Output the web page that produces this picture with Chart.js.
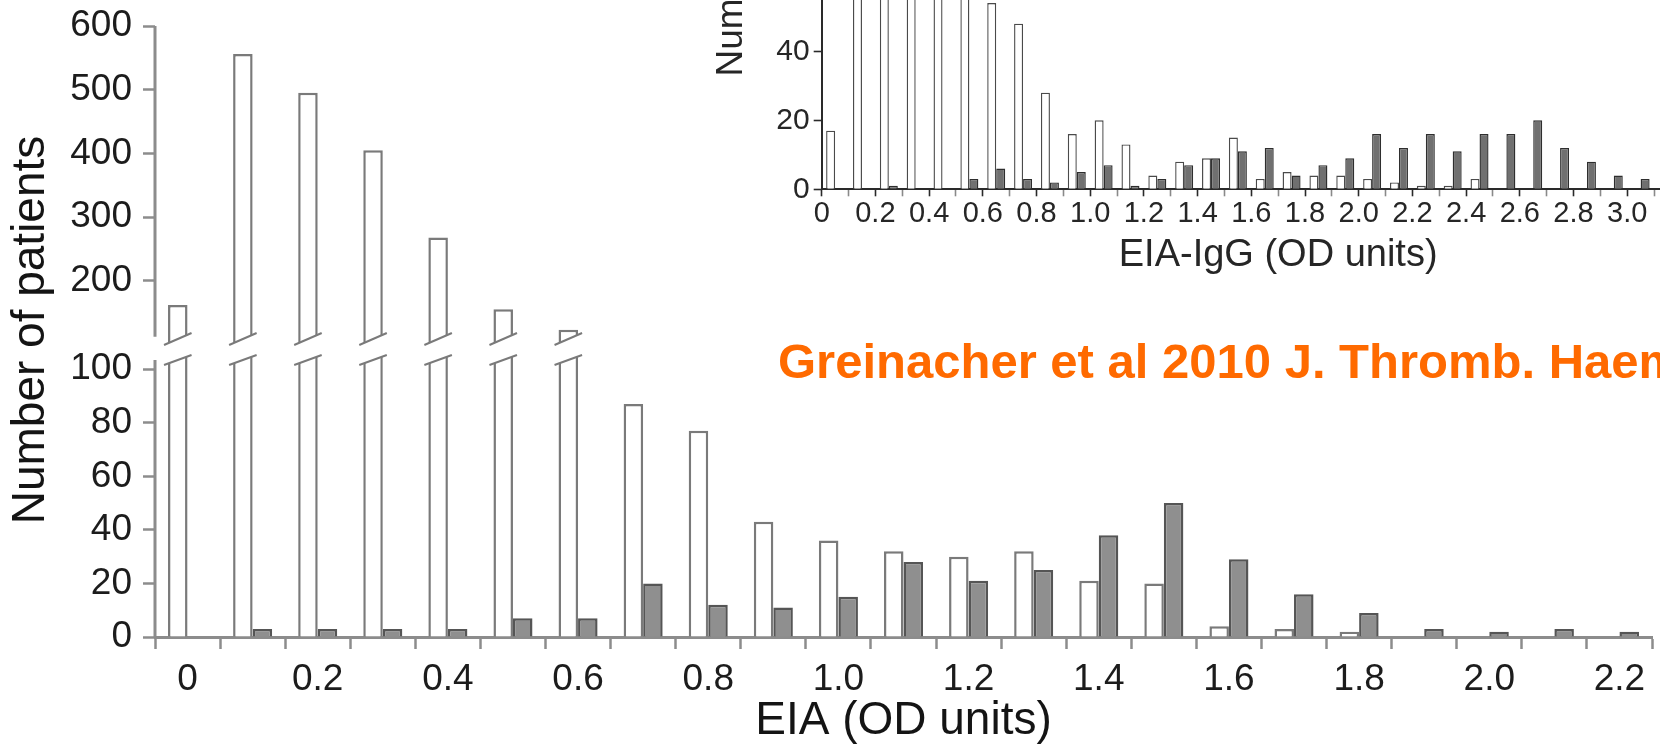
<!DOCTYPE html>
<html>
<head>
<meta charset="utf-8">
<script src="https://cdn.jsdelivr.net/npm/chart.js@4.4.1/dist/chart.umd.min.js"></script>
<style>
  html, body { margin: 0; padding: 0; background: #fff; overflow: hidden; }
  #stage { position: relative; width: 1660px; height: 747px; overflow: hidden; background: #fff; }
  #stage canvas { position: absolute; }
  #lowerPanel { left: 0; top: 0; }
  #upperPanel { left: 0; top: -40px; }
  #igGPanel { left: 640px; top: -380px; }
</style>
</head>
<body>
<div id="stage">
  <canvas id="igGPanel" width="1140" height="656"></canvas>
  <canvas id="lowerPanel" width="1660" height="747"></canvas>
  <canvas id="upperPanel" width="1660" height="787"></canvas>
</div>
<script>
// ---- EIA histogram (main panel), bins of 0.1 OD ----
const eiaBins = ['0','0.1','0.2','0.3','0.4','0.5','0.6','0.7','0.8','0.9','1.0','1.1',
                 '1.2','1.3','1.4','1.5','1.6','1.7','1.8','1.9','2.0','2.1','2.2'];
const hipaNegative = [162, 556, 495, 405, 268, 155, 123, 87, 77, 43, 36, 32,
                      30, 32, 21, 20, 4, 3, 2, 0, 0, 0, 0];
const hipaPositive = [0, 3, 3, 3, 3, 7, 7, 20, 12, 11, 15, 28,
                      21, 25, 38, 50, 29, 16, 9, 3, 2, 3, 2];
const upperTicks = [200, 300, 400, 500, 600];
const lowerTicks = [0, 20, 40, 60, 80, 100];

// ---- EIA-IgG histogram (inset), bins of 0.1 OD starting at ----
const iggBinStart = [0.0, 0.1, 0.2, 0.3, 0.4, 0.5, 0.6, 0.7, 0.8, 0.9, 1.0, 1.1, 1.2, 1.3, 1.4, 1.5,
                     1.6, 1.7, 1.8, 1.9, 2.0, 2.1, 2.2, 2.3, 2.4, 2.5, 2.6, 2.7, 2.8, 2.9, 3.0];
const iggNegative = [17, 120, 104, 96, 80, 62, 54, 48, 28, 16, 20, 13, 4, 8, 9, 15,
                     3, 5, 4, 4, 3, 2, 1, 1, 3, 0, 0, 0, 0, 0, 0];
const iggPositive = [0, 0, 1, 0, 0, 3, 6, 3, 2, 5, 7, 1, 3, 7, 9, 11,
                     12, 4, 7, 9, 16, 12, 16, 11, 16, 16, 20, 12, 8, 4, 3];
const iggTicks = [0, 20, 40, 60, 80, 100, 120, 140];

const FONT = '"Liberation Sans", Arial, Helvetica, sans-serif';
Chart.defaults.font.family = FONT;
Chart.defaults.color = '#1c1c1c';

// Diagonal cut marks where a bar runs out of one segment of the broken axis
const breakMarks = {
  id: 'breakMarks',
  afterDatasetsDraw(chart, args, opts) {
    if (!opts.edge) return;
    const { ctx, chartArea } = chart;
    const ys = chart.scales.y;
    ctx.save();
    chart.data.datasets.forEach((ds, i) => {
      const meta = chart.getDatasetMeta(i);
      meta.data.forEach((bar, j) => {
        const v = ds.data[j];
        if (opts.edge === 'top' ? v <= ys.max : v <= ys.min) return;
        const { x, width } = bar.getProps(['x', 'width'], true);
        const l = x - width / 2 - opts.overhang;
        const r = x + width / 2 + opts.overhang;
        ctx.fillStyle = '#fff';
        ctx.beginPath();
        if (opts.edge === 'top') {
          const y0 = chartArea.top;
          ctx.moveTo(l, y0 + opts.rise); ctx.lineTo(r, y0);
          ctx.lineTo(r, y0 - 4); ctx.lineTo(l, y0 - 4);
        } else {
          const y0 = chartArea.bottom;
          ctx.moveTo(l, y0); ctx.lineTo(r, y0 - opts.rise);
          ctx.lineTo(r, y0 + 4); ctx.lineTo(l, y0 + 4);
        }
        ctx.closePath();
        ctx.fill();
        ctx.strokeStyle = opts.color;
        ctx.lineWidth = opts.lineWidth;
        ctx.beginPath();
        if (opts.edge === 'top') {
          ctx.moveTo(l, chartArea.top + opts.rise); ctx.lineTo(r, chartArea.top);
        } else {
          ctx.moveTo(l, chartArea.bottom); ctx.lineTo(r, chartArea.bottom - opts.rise);
        }
        ctx.stroke();
      });
    });
    ctx.restore();
  }
};

// Vertical axis line covering only part of the value range
const axisSpan = {
  id: 'axisSpan',
  afterDraw(chart, args, opts) {
    if (opts.from === undefined) return;
    const { ctx } = chart;
    const s = chart.scales.y;
    ctx.save();
    ctx.strokeStyle = opts.color;
    ctx.lineWidth = opts.lineWidth;
    ctx.beginPath();
    ctx.moveTo(s.right, s.getPixelForValue(opts.from));
    ctx.lineTo(s.right, s.getPixelForValue(opts.to));
    ctx.stroke();
    ctx.restore();
  }
};

// Free-standing text items (axis caption spanning both segments, citation)
const captions = {
  id: 'captions',
  afterDraw(chart, args, opts) {
    if (!opts.items) return;
    const { ctx } = chart;
    opts.items.forEach(c => {
      ctx.save();
      ctx.translate(c.x, c.y);
      ctx.rotate(c.rotation || 0);
      ctx.font = c.font;
      ctx.fillStyle = c.color;
      ctx.textAlign = c.align || 'center';
      ctx.textBaseline = c.baseline || 'middle';
      ctx.fillText(c.text, 0, 0);
      ctx.restore();
    });
  }
};

const axisGrey = '#8c8c8c';
const openBar = { backgroundColor: '#ffffff', borderColor: '#7a7a7a', borderWidth: 2.5 };
const filledBar = { backgroundColor: '#8f8f8f', borderColor: '#555555', borderWidth: 2.5 };

function mainDatasets() {
  return [
    Object.assign({ label: 'HIPA negative', data: hipaNegative, clip: 0,
      categoryPercentage: 0.6, barPercentage: 1.0, borderSkipped: 'start' }, openBar),
    Object.assign({ label: 'HIPA positive', data: hipaPositive, clip: 0,
      categoryPercentage: 0.6, barPercentage: 1.0, borderSkipped: 'start' }, filledBar)
  ];
}

const tickFont = { size: 37 };

// Lower segment: 0-100, with the category axis
new Chart(document.getElementById('lowerPanel'), {
  type: 'bar',
  data: { labels: eiaBins, datasets: mainDatasets() },
  options: {
    responsive: false, animation: false, devicePixelRatio: 1,
    layout: { padding: { left: 0, top: 355, right: 8, bottom: 0 } },
    plugins: {
      legend: { display: false }, tooltip: { enabled: false },
      breakMarks: { edge: 'top', rise: 10, overhang: 4, color: '#7a7a7a', lineWidth: 2 },
      axisSpan: { from: 103.4, to: 0, color: axisGrey, lineWidth: 3 },
      captions: { items: [
        { text: 'Number of patients', x: 31, y: 330, rotation: -Math.PI / 2,
          font: '46px ' + FONT, color: '#141414' },
        { text: 'Greinacher et al 2010 J. Thromb. Haemostasis', x: 778, y: 378,
          align: 'left', baseline: 'alphabetic', font: 'bold 49px ' + FONT, color: '#ff6a00' }
      ] }
    },
    scales: {
      x: {
        type: 'category', offset: true,
        grid: { offset: true, drawOnChartArea: false, drawTicks: true, tickLength: 12,
                tickColor: axisGrey, tickWidth: 2.5 },
        border: { display: true, color: axisGrey, width: 3 },
        ticks: { autoSkip: false, maxRotation: 0, minRotation: 0, padding: 9,
                 font: tickFont, color: '#1c1c1c',
                 callback: (v, i) => (i % 2 === 0 ? eiaBins[i] : '') },
        title: { display: true, text: 'EIA (OD units)', font: { size: 46, lineHeight: 1 },
                 color: '#141414', padding: { top: 0, bottom: 3 } },
        afterFit: s => { s.height = 110; }
      },
      y: {
        min: 0, max: 105.3,
        afterBuildTicks: a => { a.ticks = lowerTicks.map(v => ({ value: v })); },
        grid: { drawOnChartArea: false, drawTicks: true, tickLength: 12,
                tickColor: axisGrey, tickWidth: 2.5 },
        border: { display: false },
        ticks: { padding: 11, font: tickFont, color: '#1c1c1c' },
        afterFit: s => { s.width = 155; }
      }
    }
  },
  plugins: [breakMarks, axisSpan, captions]
});

// Upper segment: ~100-600
new Chart(document.getElementById('upperPanel'), {
  type: 'bar',
  data: { labels: eiaBins, datasets: mainDatasets() },
  options: {
    responsive: false, animation: false, devicePixelRatio: 1,
    layout: { padding: { left: 0, top: 66, right: 8, bottom: 402 } },
    plugins: {
      legend: { display: false }, tooltip: { enabled: false },
      breakMarks: { edge: 'bottom', rise: 12, overhang: 4, color: '#7a7a7a', lineWidth: 2 },
      axisSpan: { from: 600, to: 112, color: axisGrey, lineWidth: 3 }
    },
    scales: {
      x: { type: 'category', offset: true, display: false, grid: { offset: true } },
      y: {
        min: 99, max: 600,
        afterBuildTicks: a => { a.ticks = upperTicks.map(v => ({ value: v })); },
        grid: { drawOnChartArea: false, drawTicks: true, tickLength: 12,
                tickColor: axisGrey, tickWidth: 2.5 },
        border: { display: false },
        ticks: { padding: 11, font: tickFont, color: '#1c1c1c' },
        afterFit: s => { s.width = 155; }
      }
    }
  },
  plugins: [breakMarks, axisSpan]
});

// Inset: EIA-IgG histogram on a linear OD axis
const half = 0.05;
new Chart(document.getElementById('igGPanel'), {
  type: 'bar',
  data: {
    datasets: [
      { label: 'HIPA negative', data: iggBinStart.map((s, i) => ({ x: s + half, y: iggNegative[i] })),
        backgroundColor: '#ffffff', borderColor: '#4a4a4a', borderWidth: 1.4,
        categoryPercentage: 0.67, barPercentage: 1.0, clip: 0 },
      { label: 'HIPA positive', data: iggBinStart.map((s, i) => ({ x: s + half, y: iggPositive[i] })),
        backgroundColor: '#707070', borderColor: '#2e2e2e', borderWidth: 1.4,
        categoryPercentage: 0.67, barPercentage: 1.0, clip: 0 }
    ]
  },
  options: {
    responsive: false, animation: false, devicePixelRatio: 1,
    layout: { padding: { left: 0, top: 31.1, right: 45.4, bottom: 0 } },
    plugins: { legend: { display: false }, tooltip: { enabled: false } },
    scales: {
      x: {
        type: 'linear', min: 0, max: 3.4, offset: false,
        grid: { offset: false, drawOnChartArea: false, drawTicks: true, tickLength: 7,
                tickWidth: 1.6,
                tickColor: c => (Math.round(c.tick.value * 10) % 2 ? '#8a8a8a' : '#2a2a2a') },
        border: { display: true, color: '#2a2a2a', width: 2 },
        ticks: { stepSize: 0.1, autoSkip: false, maxRotation: 0, minRotation: 0, padding: 0,
                 font: { size: 29 }, color: '#262626',
                 callback: v => { const k = Math.round(v * 10);
                   return k % 2 ? '' : (k === 0 ? '0' : (k / 10).toFixed(1)); } },
        title: { display: true, text: 'EIA-IgG (OD units)', font: { size: 38, lineHeight: 1 },
                 color: '#262626', padding: { top: 0, bottom: 1 } },
        afterFit: s => { s.height = 86.7; }
      },
      y: {
        min: 0, max: 156,
        afterBuildTicks: a => { a.ticks = iggTicks.map(v => ({ value: v })); },
        grid: { drawOnChartArea: false, drawTicks: true, tickLength: 8,
                tickColor: '#2a2a2a', tickWidth: 1.6 },
        border: { display: true, color: '#2a2a2a', width: 2 },
        ticks: { padding: 4, font: { size: 30 }, color: '#262626' },
        title: { display: true, text: 'Number of patients', font: { size: 37, lineHeight: 1 },
                 color: '#262626', padding: { top: 73.5, bottom: 0 } },
        afterFit: s => { s.width = 181.7; }
      }
    }
  }
});
</script>
</body>
</html>
